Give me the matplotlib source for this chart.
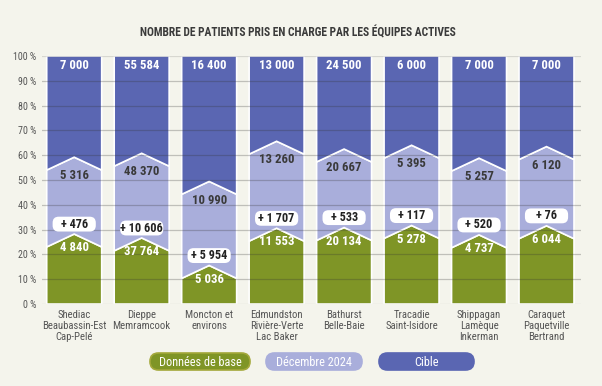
import matplotlib
matplotlib.use("Agg")
import matplotlib.pyplot as plt
from matplotlib.patches import FancyBboxPatch
from matplotlib import font_manager

# données
regions = ["Shediac\nBeaubassin-Est\nCap-Pelé", "Dieppe\nMemramcook", "Moncton et\nenvirons",
           "Edmundston\nRivière-Verte\nLac Baker", "Bathurst\nBelle-Baie", "Tracadie\nSaint-Isidore",
           "Shippagan\nLamèque\nInkerman", "Caraquet\nPaquetville\nBertrand"]
base = [4840, 37764, 5036, 11553, 20134, 5278, 4737, 6044]
dec2024 = [5316, 48370, 10990, 13260, 20667, 5395, 5257, 6120]
cible = [7000, 55584, 16400, 13000, 24500, 6000, 7000, 7000]
yticks = list(range(0, 101, 10))

BG = "#F4F4EC"
GREEN = "#7F9526"
LIGHT = "#A9AEDB"
DARK = "#5A66B2"
GREY = "#555555"

avail = sorted({f.name for f in font_manager.fontManager.ttflist})
fam = "Roboto"
for cand in ["Roboto Condensed", "Open Sans Condensed", "Liberation Sans Narrow",
             "DejaVu Sans Condensed", "Roboto"]:
    if cand in avail:
        fam = cand
        break
plt.rcParams['font.family'] = [fam, 'DejaVu Sans']


def fmt(n):
    return f"{n:,}".replace(",", " ")


fig = plt.figure(figsize=(6.02, 3.86), dpi=100, facecolor=BG)
ax = fig.add_axes([0.0698, 0.2124, 0.8953, 0.6425])
ax.set_facecolor(BG)

w = 0.4075   # demi-largeur des barres
d = 5.2      # creux du chevron (en %)
bw, bh = 0.64, 6.0   # taille des pastilles "+"

for i in range(len(regions)):
    tot = base[i] + dec2024[i] + cible[i]
    p1 = base[i] / tot * 100
    p2 = (base[i] + dec2024[i]) / tot * 100
    x = i
    ax.fill([x - w, x + w, x + w, x, x - w], [0, 0, p1 - d, p1, p1 - d],
            color=GREEN, ec="white", lw=1.2, zorder=2)
    ax.fill([x - w, x, x + w, x + w, x, x - w], [p1 - d, p1, p1 - d, p2 - d, p2, p2 - d],
            color=LIGHT, ec="white", lw=1.2, zorder=2)
    ax.fill([x - w, x, x + w, x + w, x - w], [p2 - d, p2, p2 - d, 100, 100],
            color=DARK, ec="white", lw=1.2, zorder=2)

    # étiquettes
    ax.text(x, 96, fmt(cible[i]), ha="center", va="center", color="white",
            fontsize=9.2, fontweight="bold", zorder=5)
    ax.text(x, p2 - 7.5, fmt(dec2024[i]), ha="center", va="center", color="#3a3a3a",
            fontsize=9.2, fontweight="bold", zorder=5)
    ax.text(x, p1 - 5.5, fmt(base[i]), ha="center", va="center", color="white",
            fontsize=9.2, fontweight="bold", zorder=5)
    ax.add_patch(FancyBboxPatch((x - bw / 2, p1 + 4 - bh / 2), bw, bh,
                                boxstyle="round,pad=0,rounding_size=0.09",
                                mutation_aspect=27.2, fc="white", ec="none", zorder=6))
    ax.text(x, p1 + 4, "+ " + fmt(dec2024[i] - base[i]), ha="center", va="center",
            color="#222222", fontsize=8.8, fontweight="bold", zorder=7)

# grille par-dessus les barres
for t in yticks:
    ax.axhline(t, color="#333333", alpha=0.27 if t not in (0, 100) else 0.15, lw=0.9, zorder=3)

ax.set_xlim(-0.477, 7.511)
ax.set_ylim(0, 100)
ax.set_yticks(yticks)
ax.set_yticklabels([f"{t} %" for t in yticks], color=GREY, fontsize=7.2)
ax.set_xticks(range(len(regions)))
ax.set_xticklabels(regions, color=GREY, fontsize=7.7, linespacing=1.15)
ax.tick_params(length=0, pad=4)
for s in ax.spines.values():
    s.set_visible(False)

fig.text(0.494, 0.915, "NOMBRE DE PATIENTS PRIS EN CHARGE PAR LES ÉQUIPES ACTIVES",
         ha="center", va="center", fontsize=8.3, fontweight="bold", color="#3a3a3a")

# légende en pilules (axes en pixels)
lax = fig.add_axes([0, 0, 1, 1], zorder=-1)
lax.set_xlim(0, 602)
lax.set_ylim(386, 0)
lax.axis("off")
legend = [("Données de base", GREEN, "#A3A83A", 150, 250),
          ("Décembre 2024", LIGHT, LIGHT, 266, 362),
          ("Cible", DARK, DARK, 379, 474)]
for lab, fc, ec, x0, x1 in legend:
    y0, y1 = 353, 370
    pill = FancyBboxPatch((x0, y0), x1 - x0, y1 - y0,
                          boxstyle="round,pad=0,rounding_size=8.5",
                          fc=fc, ec=ec, lw=1.2)
    lax.add_patch(pill)
    lax.text((x0 + x1) / 2, (y0 + y1) / 2 + 0.5, lab, ha="center", va="center",
             color="white", fontsize=8.8)

fig.savefig("out.png", dpi=100, facecolor=BG)
